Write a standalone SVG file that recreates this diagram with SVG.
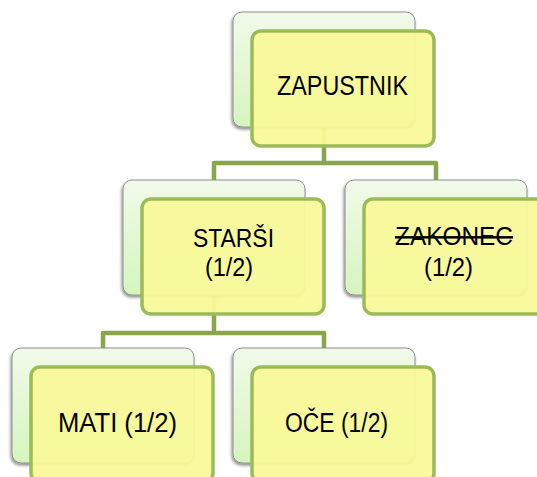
<svg xmlns="http://www.w3.org/2000/svg" width="537" height="477" viewBox="0 0 537 477">
<defs>
<linearGradient id="gBack" x1="0" y1="0" x2="0" y2="1">
<stop offset="0" stop-color="#f2faea"/>
<stop offset="1" stop-color="#d5f5bd"/>
</linearGradient>
<filter id="sh" x="-10%" y="-10%" width="125%" height="130%">
<feGaussianBlur in="SourceAlpha" stdDeviation="1.5"/>
<feOffset dx="-1" dy="2" result="b"/>
<feComponentTransfer><feFuncA type="linear" slope="0.45"/></feComponentTransfer>
<feMerge><feMergeNode/><feMergeNode in="SourceGraphic"/></feMerge>
</filter>
</defs>
<style>
.back{fill:url(#gBack);stroke:#8e8e8e;stroke-width:1;filter:url(#sh)}
.front{fill:#f9f99a;fill-opacity:0.94;stroke:#9bbb59;stroke-width:3.5}
.conn{fill:none;stroke:#8aa64c;stroke-width:4.5;stroke-linejoin:round}
text{font-family:"Liberation Sans",Arial,sans-serif;font-size:27px;fill:#000;text-anchor:middle}
.two{font-size:25px}
</style>
<rect width="537" height="477" fill="#ffffff"/>
<g id="connectors">
<path class="conn" d="M324,127 V163 M214,180 V163 H436 V180"/>
<path class="conn" d="M214,295 V333 M103,348 V333 H324 V348"/>
</g>
<g id="node-zapustnik">
<rect class="back" x="233" y="12" width="182" height="115" rx="9"/>
<rect class="front" x="252" y="31" width="182" height="115" rx="9"/>
<text x="342.5" y="95" textLength="131" lengthAdjust="spacingAndGlyphs">ZAPUSTNIK</text>
</g>
<g id="node-starsi">
<rect class="back" x="123" y="180" width="182" height="115" rx="9"/>
<rect class="front" x="142" y="199" width="182" height="115" rx="9"/>
<text class="two" x="233.5" y="247" textLength="81" lengthAdjust="spacingAndGlyphs">STARŠI</text>
<text class="two" x="229" y="276" textLength="48" lengthAdjust="spacingAndGlyphs">(1/2)</text>
</g>
<g id="node-zakonec">
<rect class="back" x="345" y="180" width="182" height="115" rx="9"/>
<rect class="front" x="364" y="199" width="182" height="115" rx="9"/>
<text class="two" x="454" y="245" textLength="118" lengthAdjust="spacingAndGlyphs" text-decoration="line-through">ZAKONEC</text>
<text class="two" x="448.5" y="276" textLength="49" lengthAdjust="spacingAndGlyphs">(1/2)</text>
</g>
<g id="node-mati">
<rect class="back" x="12" y="348" width="182" height="115" rx="9"/>
<rect class="front" x="31" y="367" width="182" height="115" rx="9"/>
<text x="117.5" y="432" textLength="119" lengthAdjust="spacingAndGlyphs">MATI (1/2)</text>
</g>
<g id="node-oce">
<rect class="back" x="233" y="348" width="182" height="115" rx="9"/>
<rect class="front" x="252" y="367" width="182" height="115" rx="9"/>
<text x="336.5" y="432" textLength="103" lengthAdjust="spacingAndGlyphs">OČE (1/2)</text>
</g>
</svg>
